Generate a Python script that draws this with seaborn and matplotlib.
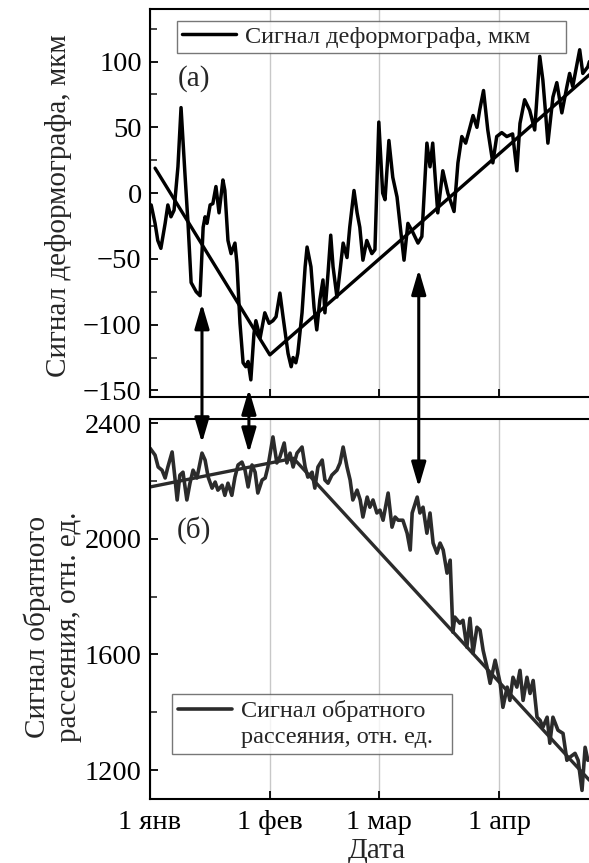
import numpy as np
import pandas as pd
import matplotlib.pyplot as plt
import matplotlib.dates as mdates
from matplotlib.patches import ConnectionPatch
from matplotlib.lines import Line2D
import seaborn as sns

start = pd.Timestamp('2019-01-01')

# deformograph signal (days after 1 Jan, mkm)
days_def = [0.3, 1.3, 2.0, 2.8, 3.9, 4.6, 5.4, 6.2, 7.2, 8.0, 9.0, 9.8, 10.6, 11.9, 12.9,
            13.7, 14.2, 14.7, 15.5, 16.2, 17.0, 17.8, 18.8, 19.3, 20.1, 20.9, 21.9, 22.4,
            23.2, 24.0, 24.7, 25.3, 26.0, 26.8, 27.3, 28.4, 29.6, 30.7, 31.7, 32.5, 33.5,
            34.3, 35.6, 36.4, 36.9, 37.6, 38.1, 39.2, 40.0, 40.5, 41.5, 42.3, 43.0, 43.8,
            44.6, 45.1, 45.9, 46.6, 47.2, 48.2, 49.0, 49.8, 50.8, 51.5, 52.6, 53.4, 54.1,
            54.9, 55.9, 57.2, 58.0, 59.0, 60.0, 60.6, 61.6, 62.6, 63.7, 64.7, 65.5, 66.5,
            67.8, 69.1, 70.1, 71.4, 72.2, 72.9, 74.2, 75.5, 76.8, 78.4, 79.4, 80.4, 81.4,
            82.5, 83.3, 84.3, 85.0, 86.0, 87.1, 88.4, 89.4, 90.7, 92.0, 93.5, 94.6, 95.4,
            96.6, 97.9, 99.2, 100.5, 101.3, 102.0, 102.6, 103.9, 104.9, 106.2, 107.5, 108.2,
            109.0, 110.8, 111.6, 112.9, 113.3]
vals_def = [-9, -23, -36, -42, -23, -9, -18, -13, 20, 65, 15, -23, -68, -75, -78,
            -26, -18, -23, -9, -8, 5, -15, 10, 2, -36, -46, -38, -53,
            -99, -129, -132, -128, -142, -107, -97, -110, -91, -99, -97, -94, -76,
            -94, -122, -132, -125, -129, -122, -91, -56, -41, -56, -87, -104, -81,
            -66, -91, -61, -32, -56, -79, -59, -38, -49, -26, 2, -15, -26,
            -51, -36, -46, -43, 54, 0, -5, 40, 12, -3, -30, -51, -23,
            -30, -38, -33, 38, 20, 38, -15, 17, 0, -14, 23, 43, 38,
            50, 59, 50, 63, 78, 48, 23, 43, 46, 43, 45, 17, 53,
            71, 63, 48, 104, 86, 61, 38, 73, 84, 61, 81, 91,
            81, 109, 91, 96, 100]
trend_def_days = [1.3, 30.9, 113.3]
trend_def_vals = [19, -123, 90]

# backscatter signal (days after 1 Jan, rel. units)
days_bs = [0.0, 1.3, 2.1, 3.1, 3.9, 4.6, 5.7, 6.4, 7.0, 7.7, 8.5, 9.5, 10.3, 11.1, 12.1,
           13.4, 14.2, 15.0, 16.0, 16.8, 17.5, 18.6, 19.3, 20.1, 21.1, 21.9, 22.7, 23.7,
           24.5, 25.3, 26.3, 27.1, 27.8, 28.9, 29.7, 30.4, 31.7, 32.7, 33.5, 34.6, 35.3,
           36.1, 36.9, 37.9, 39.2, 40.0, 40.7, 41.8, 42.5, 43.3, 44.4, 45.1, 45.9, 46.9,
           48.2, 49.0, 49.8, 50.8, 51.6, 52.3, 53.4, 54.2, 54.9, 56.0, 56.7, 57.5, 58.5,
           59.3, 60.1, 61.4, 62.4, 63.2, 64.0, 65.2, 66.3, 67.1, 67.6, 68.9, 69.6, 70.4,
           71.4, 72.2, 73.0, 74.0, 74.8, 75.6, 76.6, 77.4, 77.9, 78.1, 78.6, 79.9, 80.7,
           81.7, 82.5, 83.3, 84.3, 85.1, 85.9, 86.9, 87.7, 89.0, 90.3, 91.0, 92.1, 92.8,
           93.6, 94.6, 95.4, 96.2, 97.2, 98.0, 98.8, 99.8, 100.6, 101.3, 102.4, 103.1,
           103.9, 105.2, 106.5, 107.5, 108.3, 109.6, 110.4, 111.4, 112.2, 112.9]
vals_bs = [2313, 2289, 2248, 2237, 2210, 2248, 2300, 2213, 2134, 2220, 2230, 2134, 2192, 2237, 2210,
           2296, 2272, 2213, 2175, 2196, 2168, 2185, 2150, 2192, 2150, 2213, 2255, 2265,
           2237, 2179, 2255, 2230, 2158, 2203, 2210, 2248, 2352, 2262, 2283, 2331, 2262,
           2296, 2248, 2296, 2317, 2248, 2213, 2230, 2175, 2248, 2272, 2203, 2192, 2220,
           2237, 2262, 2317, 2248, 2203, 2134, 2168, 2134, 2075, 2144, 2109, 2134, 2089,
           2099, 2064, 2158, 2040, 2075, 2064, 2064, 2019, 1961, 2089, 2144, 2089, 2109,
           2019, 2089, 1985, 1950, 1985, 1961, 1881, 1926, 1743, 1677, 1729, 1708, 1718,
           1625, 1725, 1604, 1694, 1684, 1614, 1556, 1500, 1580, 1500, 1417, 1487, 1441,
           1521, 1487, 1545, 1441, 1521, 1465, 1510, 1383, 1372, 1348, 1383, 1293,
           1383, 1338, 1327, 1234, 1245, 1258, 1234, 1130, 1279, 1234]
trend_bs_days = [0.0, 37.0, 113.3]
trend_bs_vals = [2179, 2278, 1165]

# double arrows linking features in both panels
arrow_days = [13.4, 25.5, 69.3]
arrow_top = [-84, -149, -58]
arrow_bot = [2331, 2296, 2178]

tick_dates = ['2019-01-01', '2019-02-01', '2019-03-01', '2019-04-01']
tick_labels = ['1 янв', '1 фев', '1 мар', '1 апр']


def to_dates(days):
    return start + pd.to_timedelta(days, unit='D')


sns.set_theme(style='ticks')
plt.rcParams['font.family'] = ['Liberation Serif', 'DejaVu Serif']

fig = plt.figure(figsize=(5.89, 8.63), dpi=100)
ax1 = fig.add_axes([0.2547, 0.5400, 0.7453, 0.4496])
ax2 = fig.add_axes([0.2547, 0.0741, 0.7453, 0.4404])

col_bs = '#2b2b2b'

sns.lineplot(x=to_dates(days_def), y=vals_def, ax=ax1, color='black', lw=2.5,
             sort=False, estimator=None, label='Сигнал деформографа, мкм     ')
sns.lineplot(x=to_dates(trend_def_days), y=trend_def_vals, ax=ax1, color='black', lw=2.4,
             sort=False, estimator=None)
sns.lineplot(x=to_dates(days_bs), y=vals_bs, ax=ax2, color=col_bs, lw=2.6,
             sort=False, estimator=None)
sns.lineplot(x=to_dates(trend_bs_days), y=trend_bs_vals, ax=ax2, color=col_bs, lw=2.4,
             sort=False, estimator=None)

xmin = start
xmax = start + pd.Timedelta(days=113.2)
ticks = pd.to_datetime(tick_dates)

for ax in (ax1, ax2):
    ax.set_xlim(xmin, xmax)
    ax.set_xticks(ticks)
    ax.grid(axis='x', color='#c8c8c8', lw=1.0)
    ax.set_axisbelow(True)
    ax.spines['right'].set_visible(False)
    for s in ('left', 'bottom', 'top'):
        ax.spines[s].set_linewidth(1.5)
        ax.spines[s].set_color('black')
    ax.tick_params(axis='both', which='major', direction='in', length=6, width=1.3,
                   labelsize=20.5, pad=6, colors='black')
    ax.tick_params(axis='x', which='major', pad=8)
    ax.tick_params(axis='y', which='minor', direction='in', length=5, width=1.2)
    ax.set_ylabel('')
    ax.set_xlabel('')

ax1.set_xticklabels([])
ax2.set_xticklabels(tick_labels)

ax1.set_ylim(-155, 140)
ax1.set_yticks([-150, -100, -50, 0, 50, 100])
ax1.yaxis.set_minor_locator(plt.MultipleLocator(25))
ax2.set_ylim(1100, 2414)
ax2.set_yticks([1200, 1600, 2000, 2400])
ax2.yaxis.set_minor_locator(plt.MultipleLocator(200))

ax1.set_ylabel('Сигнал деформографа, мкм', fontsize=21)
ax1.yaxis.set_label_coords(-0.178, 0.492)
ax2.set_ylabel('Сигнал обратного\nрассеяния, отн. ед.', fontsize=21, linespacing=1.25)
ax2.yaxis.set_label_coords(-0.155, 0.453)
ax2.set_xlabel('Дата', fontsize=21)
ax2.xaxis.set_label_coords(0.517, -0.103)

ax1.text(0.064, 0.822, '(а)', transform=ax1.transAxes, fontsize=21, va='center', ha='left')
ax2.text(0.062, 0.708, '(б)', transform=ax2.transAxes, fontsize=21, va='center', ha='left')

leg1 = ax1.legend(loc='upper left', bbox_to_anchor=(0.062, 0.969), fontsize=17.5,
                  handlelength=2.2, handletextpad=0.4, frameon=True, fancybox=False,
                  borderpad=0.2, borderaxespad=0)
leg1.get_frame().set_edgecolor('#555555')
leg1.get_frame().set_linewidth(1.0)

handles = [Line2D([], [], color=col_bs, lw=2.6), Line2D([], [], alpha=0)]
leg2 = ax2.legend(handles, ['Сигнал обратного', 'рассеяния, отн. ед.  '], loc='lower left',
                  bbox_to_anchor=(0.05, 0.118), fontsize=17.5, handlelength=2.2,
                  handletextpad=0.4, labelspacing=0.15, frameon=True, fancybox=False,
                  borderpad=0.25, borderaxespad=0)
leg2.get_frame().set_edgecolor('#555555')
leg2.get_frame().set_linewidth(1.0)

for d, yt, yb in zip(arrow_days, arrow_top, arrow_bot):
    xd = mdates.date2num(start + pd.Timedelta(days=d))
    con = ConnectionPatch(xyA=(xd, yt), coordsA=ax1.transData,
                          xyB=(xd, yb), coordsB=ax2.transData,
                          arrowstyle='<|-|>,head_length=0.75,head_width=0.22',
                          mutation_scale=20, lw=2.2, color='black')
    fig.add_artist(con)

fig.savefig('out.png', dpi=100)
